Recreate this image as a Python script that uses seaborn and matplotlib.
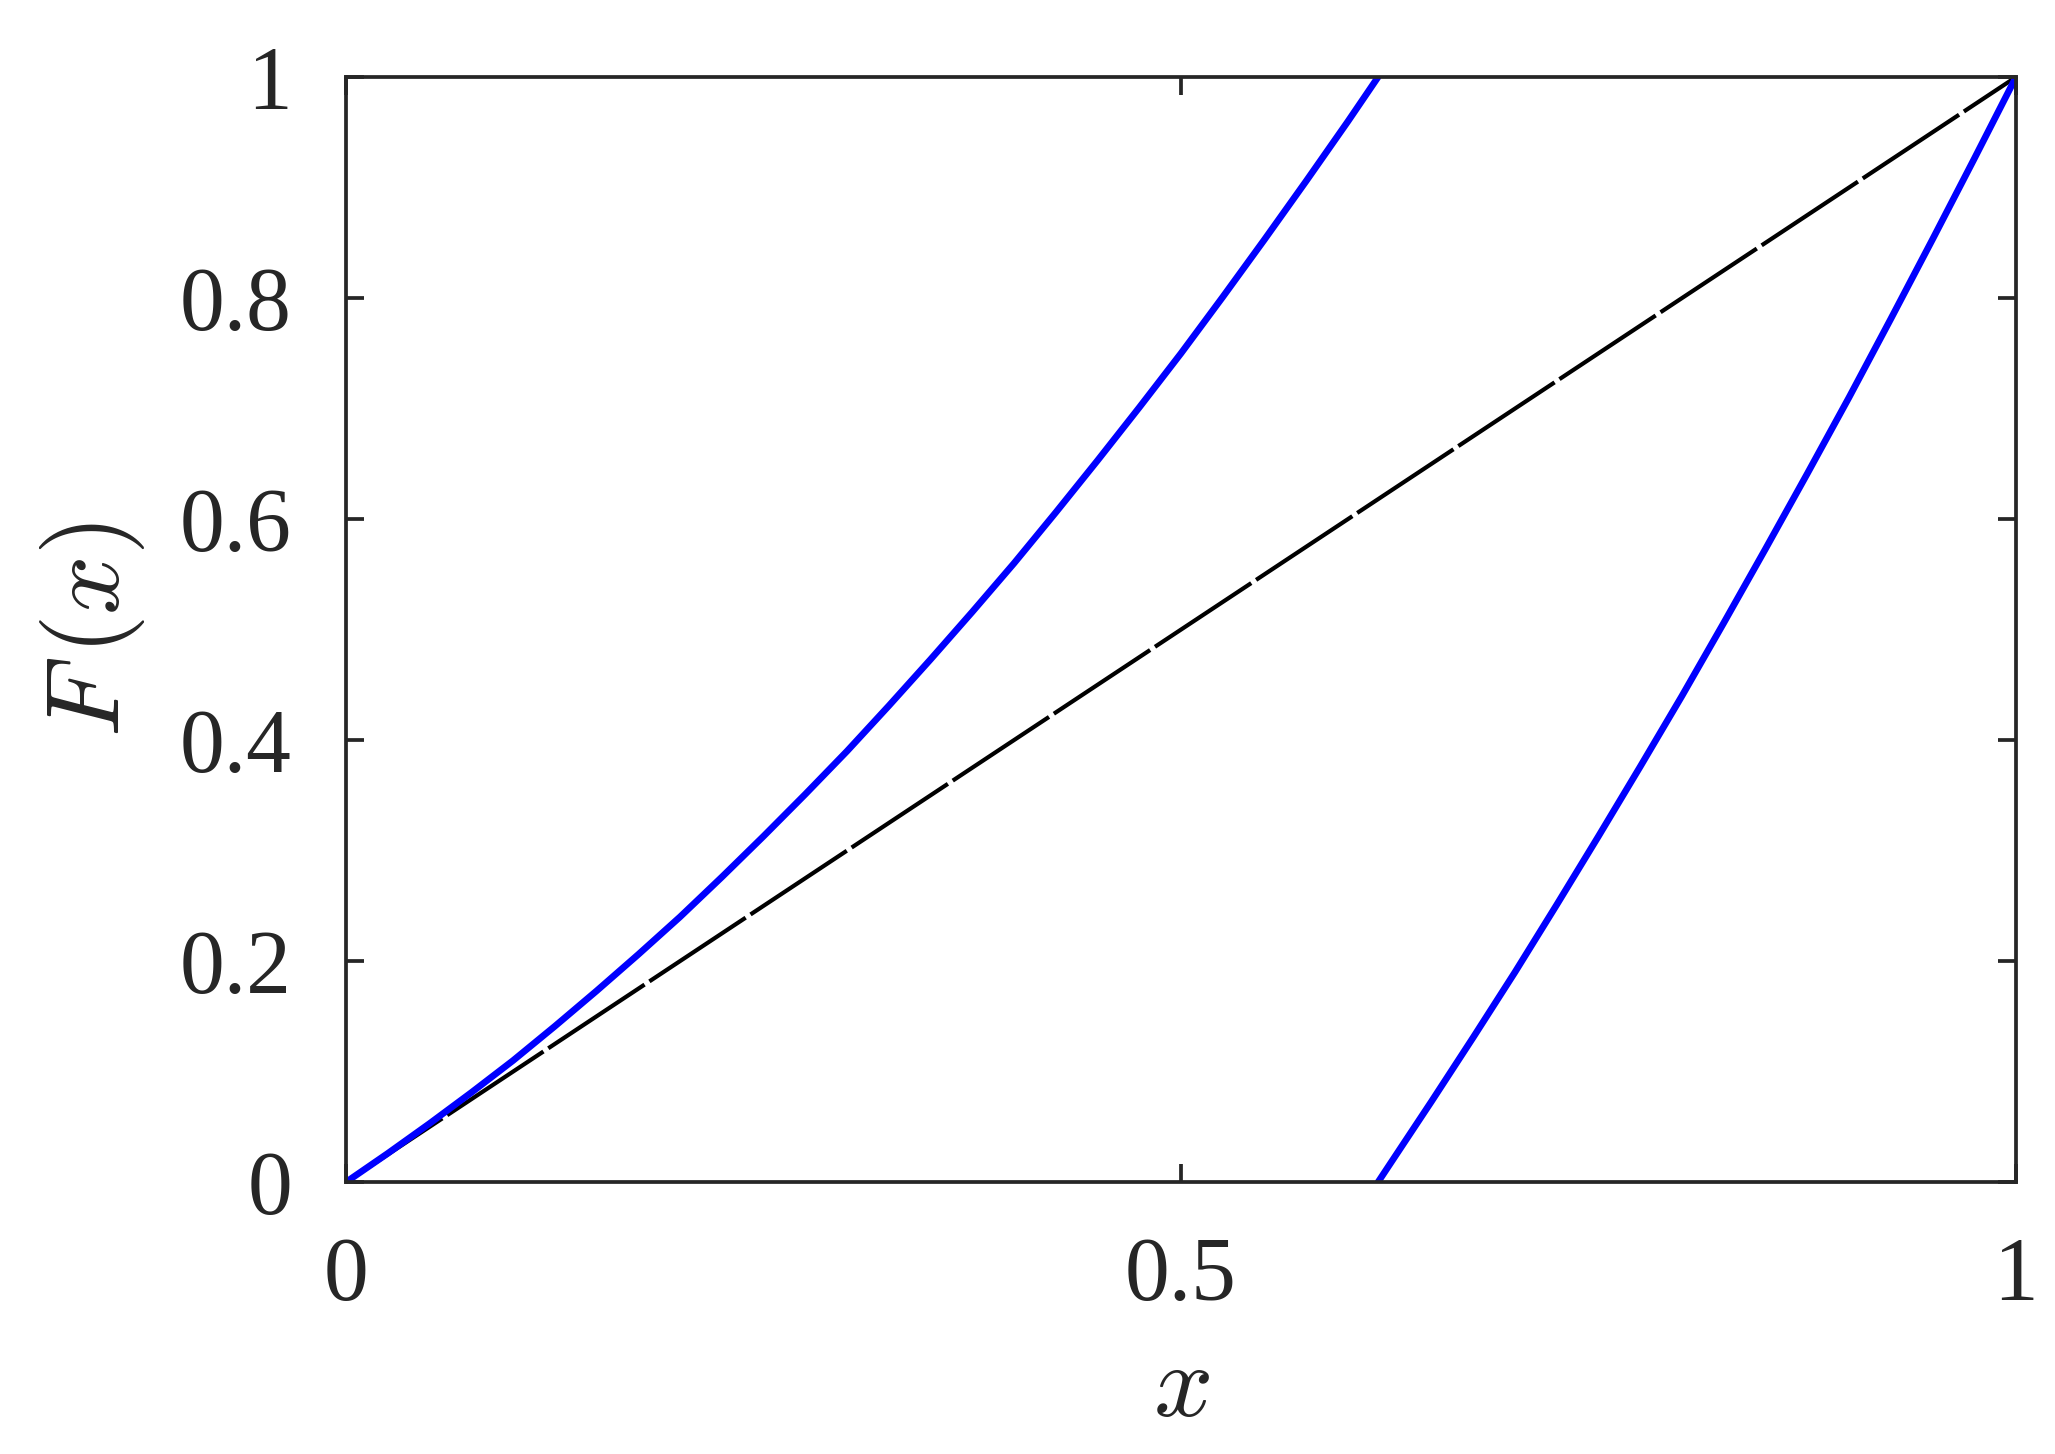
import matplotlib
matplotlib.use("Agg")
import matplotlib.pyplot as plt
import seaborn as sns
import pandas as pd

# -------------------------
# Data
# -------------------------
# left branch, from (0,0) up to the top edge
x_left = [0.000, 0.025, 0.050, 0.075, 0.100, 0.125, 0.150, 0.175, 0.200,
          0.225, 0.250, 0.275, 0.300, 0.325, 0.350, 0.375, 0.400, 0.425,
          0.450, 0.475, 0.500, 0.525, 0.550, 0.575, 0.600, 0.618]
f_left = [0.000, 0.026, 0.053, 0.081, 0.110, 0.141, 0.173, 0.206, 0.240,
          0.276, 0.313, 0.351, 0.390, 0.431, 0.473, 0.516, 0.560, 0.606,
          0.653, 0.701, 0.750, 0.801, 0.853, 0.906, 0.960, 1.000]

# right branch, from the bottom edge up to (1,1)
x_right = [0.618, 0.625, 0.650, 0.675, 0.700, 0.725, 0.750, 0.775, 0.800,
           0.825, 0.850, 0.875, 0.900, 0.925, 0.950, 0.975, 1.000]
f_right = [0.000, 0.016, 0.073, 0.131, 0.190, 0.251, 0.313, 0.376, 0.440,
           0.506, 0.573, 0.641, 0.710, 0.781, 0.853, 0.926, 1.000]

# diagonal y = x
x_diag = [0.0, 1.0]
f_diag = [0.0, 1.0]

x_ticks = [0, 0.5, 1]
x_tick_labels = ["0", "0.5", "1"]
y_ticks = [0, 0.2, 0.4, 0.6, 0.8, 1]
y_tick_labels = ["0", "0.2", "0.4", "0.6", "0.8", "1"]

left = pd.DataFrame({"x": x_left, "F": f_left})
right = pd.DataFrame({"x": x_right, "F": f_right})
diag = pd.DataFrame({"x": x_diag, "F": f_diag})

# -------------------------
# Style
# -------------------------
sns.set_style("ticks")
plt.rcParams["font.family"] = "serif"
plt.rcParams["font.serif"] = ["Liberation Serif", "Times New Roman", "Nimbus Roman", "DejaVu Serif"]
plt.rcParams["mathtext.fontset"] = "cm"
plt.rcParams["path.simplify"] = False

fig = plt.figure(figsize=(2055 / 300, 1454 / 300), dpi=300)
ax = fig.add_axes([0.1684, 0.187, 0.8126, 0.760])

sns.lineplot(data=diag, x="x", y="F", ax=ax, color="black", linewidth=1.0,
             sort=False, estimator=None)
ax.lines[-1].set_dashes((27.7, 1.4))
sns.lineplot(data=left, x="x", y="F", ax=ax, color="#0000ff", linewidth=1.6,
             sort=False, estimator=None)
sns.lineplot(data=right, x="x", y="F", ax=ax, color="#0000ff", linewidth=1.6,
             sort=False, estimator=None)

ax.set_xlim(0, 1)
ax.set_ylim(0, 1)
ax.set_xticks(x_ticks)
ax.set_xticklabels(x_tick_labels)
ax.set_yticks(y_ticks)
ax.set_yticklabels(y_tick_labels)

ax.tick_params(direction="in", length=4.4, width=0.9, color="#262626",
               labelsize=21.5, labelcolor="#262626", pad=13,
               top=True, right=True)
for s in ax.spines.values():
    s.set_linewidth(0.9)
    s.set_color("#262626")
    s.set_visible(True)

ax.set_xlabel("$x$", fontsize=25, color="#262626", labelpad=6)
ax.set_ylabel("$F\\,(x)$", fontsize=25, color="#262626", labelpad=8)

fig.savefig("out.png", dpi=300, facecolor="white")
